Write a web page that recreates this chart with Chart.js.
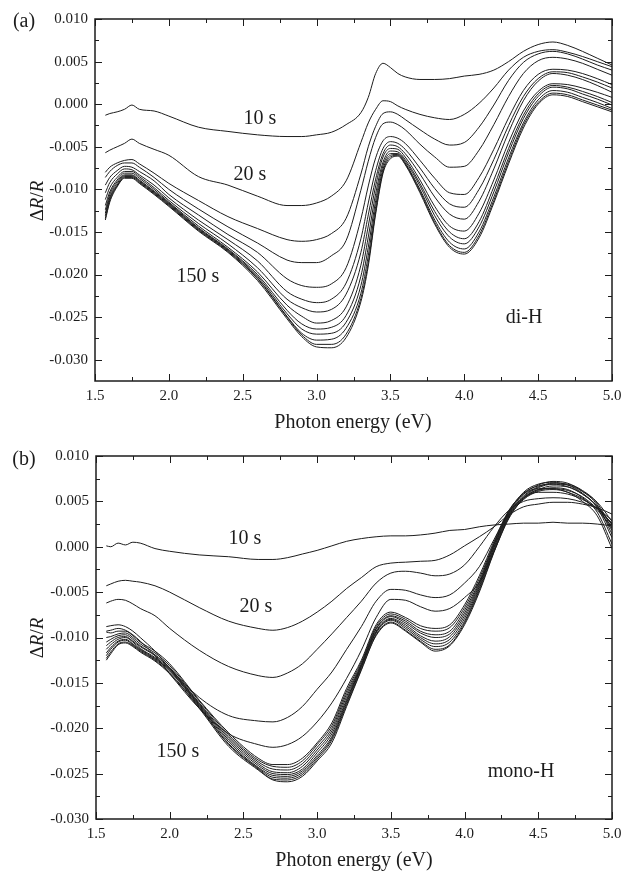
<!DOCTYPE html>
<html>
<head>
<meta charset="utf-8">
<script src="https://cdn.jsdelivr.net/npm/chart.js@4.4.1/dist/chart.umd.min.js"></script>
<style>
body { margin: 0; background: #fff; width: 621px; height: 875px; position: relative; overflow: hidden;
       font-family: "Liberation Serif", "Times New Roman", serif; color: #1c1c1c; }
canvas { position: absolute; left: 0; }
.t { position: absolute; white-space: nowrap; font-size: 20px; line-height: 1; transform: translate(-50%, -50%); }
.yt { font-size: 19px; transform: translate(-50%, -50%) rotate(-90deg); }
</style>
</head>
<body>
<canvas id="chartA" width="621" height="437" style="top:0"></canvas>
<canvas id="chartB" width="621" height="438" style="top:437px"></canvas>

<div class="t" style="left:24px;top:20px">(a)</div>
<div class="t yt" style="left:36px;top:201px">&Delta;<i>R</i>/<i>R</i></div>
<div class="t" style="left:353px;top:421px">Photon energy (eV)</div>
<div class="t" style="left:260px;top:117px">10 s</div>
<div class="t" style="left:250px;top:173px">20 s</div>
<div class="t" style="left:198px;top:275px">150 s</div>
<div class="t" style="left:524px;top:316px">di-H</div>

<div class="t" style="left:24px;top:458px">(b)</div>
<div class="t yt" style="left:36px;top:638px">&Delta;<i>R</i>/<i>R</i></div>
<div class="t" style="left:354px;top:859px">Photon energy (eV)</div>
<div class="t" style="left:245px;top:537px">10 s</div>
<div class="t" style="left:256px;top:605px">20 s</div>
<div class="t" style="left:178px;top:750px">150 s</div>
<div class="t" style="left:521px;top:770px">mono-H</div>

<script>
// tick values
const xTickValues = [1.5, 2.0, 2.5, 3.0, 3.5, 4.0, 4.5, 5.0];
const xMinorTicks = [1.75, 2.25, 2.75, 3.25, 3.75, 4.25, 4.75];
const yTickValues = [0.010, 0.005, 0.000, -0.005, -0.010, -0.015, -0.020, -0.025, -0.030];
const yMinorTicks = [0.0075, 0.0025, -0.0025, -0.0075, -0.0125, -0.0175, -0.0225, -0.0275];

// (a) di-H, exposure 10 s ... 150 s
const energyA = [1.57,1.6,1.65,1.7,1.75,1.8,1.9,2.0,2.2,2.4,2.6,2.8,2.9,3.0,3.1,3.2,3.3,3.35,3.4,3.45,3.5,3.55,3.6,3.7,3.8,3.9,4.0,4.1,4.2,4.3,4.4,4.5,4.6,4.7,4.8,4.9,5.0];
const diH_10s = [-0.0013,-0.0011,-0.0009,-0.0006,-0.0001,-0.0006,-0.0008,-0.0014,-0.0027,-0.0032,-0.0036,-0.0038,-0.0038,-0.0036,-0.0033,-0.0024,-0.0010,0.0008,0.0036,0.0048,0.0043,0.0036,0.0032,0.0029,0.0029,0.0030,0.0033,0.0035,0.0040,0.0050,0.0062,0.0070,0.0073,0.0069,0.0062,0.0054,0.0046];
const diH_20s = [-0.0057,-0.0054,-0.0050,-0.0046,-0.0041,-0.0046,-0.0053,-0.0060,-0.0085,-0.0095,-0.0108,-0.0119,-0.0119,-0.0116,-0.0108,-0.0090,-0.0045,-0.0022,-0.0006,0.0004,0.0003,-0.0002,-0.0006,-0.0012,-0.0016,-0.0018,-0.0012,0.0001,0.0019,0.0040,0.0055,0.0062,0.0064,0.0061,0.0056,0.0050,0.0044];
const diH_30s = [-0.0080,-0.0074,-0.0069,-0.0066,-0.0065,-0.0070,-0.0081,-0.0093,-0.0113,-0.0132,-0.0146,-0.0159,-0.0161,-0.0159,-0.0152,-0.0134,-0.0082,-0.0050,-0.0026,-0.0011,-0.0009,-0.0012,-0.0018,-0.0030,-0.0041,-0.0048,-0.0045,-0.0027,-0.0001,0.0028,0.0049,0.0059,0.0062,0.0059,0.0053,0.0046,0.0040];
const diH_40s = [-0.0086,-0.0079,-0.0072,-0.0069,-0.0069,-0.0074,-0.0086,-0.0100,-0.0123,-0.0144,-0.0163,-0.0183,-0.0186,-0.0186,-0.0178,-0.0160,-0.0101,-0.0067,-0.0039,-0.0023,-0.0021,-0.0024,-0.0030,-0.0047,-0.0062,-0.0074,-0.0073,-0.0054,-0.0024,0.0009,0.0036,0.0051,0.0055,0.0053,0.0048,0.0041,0.0034];
const diH_50s = [-0.0095,-0.0086,-0.0078,-0.0073,-0.0074,-0.0079,-0.0090,-0.0106,-0.0130,-0.0153,-0.0174,-0.0205,-0.0213,-0.0215,-0.0211,-0.0192,-0.0135,-0.0096,-0.0063,-0.0043,-0.0038,-0.0040,-0.0046,-0.0066,-0.0087,-0.0104,-0.0106,-0.0086,-0.0053,-0.0016,0.0016,0.0035,0.0041,0.0040,0.0036,0.0030,0.0023];
const diH_60s = [-0.0104,-0.0092,-0.0082,-0.0076,-0.0077,-0.0083,-0.0095,-0.0110,-0.0136,-0.0159,-0.0184,-0.0220,-0.0229,-0.0233,-0.0229,-0.0210,-0.0158,-0.0116,-0.0078,-0.0052,-0.0044,-0.0046,-0.0053,-0.0075,-0.0099,-0.0117,-0.0121,-0.0100,-0.0065,-0.0025,0.0009,0.0030,0.0038,0.0037,0.0032,0.0026,0.0019];
const diH_70s = [-0.0112,-0.0098,-0.0086,-0.0079,-0.0079,-0.0085,-0.0098,-0.0113,-0.0140,-0.0164,-0.0192,-0.0229,-0.0239,-0.0244,-0.0241,-0.0223,-0.0174,-0.0130,-0.0088,-0.0058,-0.0048,-0.0050,-0.0058,-0.0082,-0.0109,-0.0129,-0.0135,-0.0114,-0.0076,-0.0033,0.0004,0.0027,0.0036,0.0034,0.0029,0.0022,0.0014];
const diH_80s = [-0.0119,-0.0103,-0.0089,-0.0081,-0.0081,-0.0087,-0.0100,-0.0115,-0.0143,-0.0168,-0.0197,-0.0236,-0.0249,-0.0257,-0.0254,-0.0238,-0.0189,-0.0143,-0.0096,-0.0062,-0.0052,-0.0053,-0.0062,-0.0089,-0.0120,-0.0143,-0.0149,-0.0128,-0.0089,-0.0045,-0.0008,0.0015,0.0024,0.0023,0.0019,0.0014,0.0008];
const diH_90s = [-0.0124,-0.0106,-0.0091,-0.0083,-0.0083,-0.0089,-0.0102,-0.0116,-0.0145,-0.0170,-0.0200,-0.0242,-0.0258,-0.0264,-0.0262,-0.0248,-0.0202,-0.0156,-0.0105,-0.0068,-0.0055,-0.0056,-0.0065,-0.0093,-0.0126,-0.0150,-0.0158,-0.0138,-0.0097,-0.0052,-0.0013,0.0012,0.0022,0.0020,0.0015,0.0009,0.0002];
const diH_100s = [-0.0128,-0.0109,-0.0093,-0.0084,-0.0084,-0.0090,-0.0103,-0.0117,-0.0146,-0.0171,-0.0202,-0.0246,-0.0264,-0.0270,-0.0269,-0.0256,-0.0213,-0.0168,-0.0113,-0.0072,-0.0058,-0.0058,-0.0067,-0.0096,-0.0131,-0.0156,-0.0164,-0.0144,-0.0103,-0.0057,-0.0017,0.0009,0.0020,0.0018,0.0012,0.0006,-0.0001];
const diH_110s = [-0.0131,-0.0111,-0.0095,-0.0085,-0.0085,-0.0091,-0.0104,-0.0118,-0.0147,-0.0172,-0.0204,-0.0249,-0.0269,-0.0277,-0.0276,-0.0263,-0.0222,-0.0178,-0.0120,-0.0076,-0.0060,-0.0059,-0.0069,-0.0100,-0.0136,-0.0162,-0.0170,-0.0150,-0.0109,-0.0063,-0.0022,0.0005,0.0016,0.0014,0.0008,0.0002,-0.0005];
const diH_130s = [-0.0134,-0.0113,-0.0096,-0.0086,-0.0086,-0.0092,-0.0105,-0.0119,-0.0148,-0.0173,-0.0205,-0.0250,-0.0271,-0.0282,-0.0282,-0.0270,-0.0228,-0.0186,-0.0126,-0.0079,-0.0062,-0.0060,-0.0070,-0.0102,-0.0139,-0.0166,-0.0174,-0.0154,-0.0113,-0.0067,-0.0025,0.0002,0.0013,0.0011,0.0005,-0.0001,-0.0007];
const diH_150s = [-0.0136,-0.0115,-0.0097,-0.0087,-0.0087,-0.0093,-0.0106,-0.0120,-0.0149,-0.0174,-0.0207,-0.0252,-0.0273,-0.0285,-0.0286,-0.0274,-0.0232,-0.0190,-0.0129,-0.0081,-0.0064,-0.0061,-0.0071,-0.0104,-0.0141,-0.0168,-0.0176,-0.0157,-0.0116,-0.0070,-0.0028,0.0000,0.0011,0.0009,0.0003,-0.0003,-0.0009];

// (b) mono-H
const energyB = [1.57,1.6,1.65,1.7,1.75,1.8,1.9,2.0,2.2,2.4,2.6,2.7,2.8,2.9,3.0,3.1,3.2,3.3,3.4,3.5,3.6,3.7,3.8,3.9,4.0,4.1,4.2,4.3,4.4,4.5,4.6,4.7,4.8,4.9,5.0];
const monoH_10s = [0.0001,0.0000,0.0004,0.0002,0.0005,0.0004,-0.0002,-0.0005,-0.0009,-0.0011,-0.0014,-0.0014,-0.0012,-0.0008,-0.0004,0.0001,0.0006,0.0009,0.0011,0.0012,0.0012,0.0013,0.0015,0.0018,0.0019,0.0022,0.0024,0.0025,0.0026,0.0026,0.0027,0.0026,0.0026,0.0025,0.0023];
const monoH_20s = [-0.0043,-0.0041,-0.0038,-0.0037,-0.0038,-0.0039,-0.0043,-0.0050,-0.0067,-0.0082,-0.0090,-0.0092,-0.0089,-0.0082,-0.0072,-0.0060,-0.0046,-0.0034,-0.0022,-0.0018,-0.0017,-0.0016,-0.0015,-0.0009,0.0001,0.0011,0.0022,0.0035,0.0044,0.0047,0.0049,0.0049,0.0047,0.0043,0.0036];
const monoH_30s = [-0.0062,-0.0060,-0.0058,-0.0059,-0.0063,-0.0068,-0.0076,-0.0090,-0.0114,-0.0132,-0.0142,-0.0144,-0.0139,-0.0129,-0.0113,-0.0096,-0.0078,-0.0060,-0.0040,-0.0029,-0.0027,-0.0029,-0.0032,-0.0030,-0.0020,0.0000,0.0022,0.0040,0.0050,0.0053,0.0054,0.0053,0.0049,0.0042,0.0029];
const monoH_40s = [-0.0088,-0.0087,-0.0086,-0.0088,-0.0093,-0.0100,-0.0115,-0.0134,-0.0166,-0.0186,-0.0192,-0.0193,-0.0188,-0.0176,-0.0157,-0.0138,-0.0113,-0.0088,-0.0060,-0.0047,-0.0048,-0.0053,-0.0056,-0.0053,-0.0040,-0.0022,0.0008,0.0038,0.0054,0.0060,0.0060,0.0058,0.0052,0.0042,0.0025];
const monoH_50s = [-0.0093,-0.0092,-0.0090,-0.0092,-0.0097,-0.0104,-0.0120,-0.0140,-0.0178,-0.0206,-0.0218,-0.0221,-0.0218,-0.0209,-0.0193,-0.0172,-0.0145,-0.0114,-0.0078,-0.0058,-0.0059,-0.0066,-0.0071,-0.0068,-0.0056,-0.0039,-0.0005,0.0031,0.0053,0.0063,0.0064,0.0060,0.0053,0.0040,0.0022];
const monoH_60s = [-0.0094,-0.0095,-0.0093,-0.0093,-0.0098,-0.0105,-0.0115,-0.0129,-0.0169,-0.0205,-0.0233,-0.0240,-0.0240,-0.0233,-0.0216,-0.0194,-0.0156,-0.0125,-0.0086,-0.0072,-0.0078,-0.0087,-0.0090,-0.0086,-0.0064,-0.0032,0.0006,0.0040,0.0058,0.0064,0.0064,0.0062,0.0055,0.0042,0.0026];
const monoH_70s = [-0.0100,-0.0099,-0.0096,-0.0095,-0.0100,-0.0107,-0.0117,-0.0131,-0.0170,-0.0207,-0.0235,-0.0242,-0.0243,-0.0236,-0.0218,-0.0197,-0.0159,-0.0127,-0.0088,-0.0074,-0.0080,-0.0090,-0.0093,-0.0089,-0.0067,-0.0035,0.0004,0.0039,0.0059,0.0067,0.0069,0.0066,0.0058,0.0045,0.0024];
const monoH_80s = [-0.0105,-0.0102,-0.0098,-0.0097,-0.0102,-0.0109,-0.0119,-0.0133,-0.0172,-0.0209,-0.0237,-0.0245,-0.0246,-0.0239,-0.0221,-0.0200,-0.0162,-0.0129,-0.0090,-0.0076,-0.0082,-0.0093,-0.0097,-0.0093,-0.0070,-0.0038,0.0003,0.0038,0.0060,0.0069,0.0071,0.0068,0.0059,0.0044,0.0018];
const monoH_90s = [-0.0109,-0.0105,-0.0100,-0.0099,-0.0104,-0.0110,-0.0120,-0.0134,-0.0173,-0.0211,-0.0239,-0.0248,-0.0249,-0.0242,-0.0224,-0.0203,-0.0165,-0.0130,-0.0091,-0.0077,-0.0084,-0.0095,-0.0100,-0.0096,-0.0073,-0.0040,0.0002,0.0037,0.0058,0.0068,0.0072,0.0070,0.0061,0.0046,0.0014];
const monoH_100s = [-0.0113,-0.0108,-0.0102,-0.0100,-0.0105,-0.0112,-0.0122,-0.0135,-0.0174,-0.0213,-0.0241,-0.0250,-0.0251,-0.0245,-0.0227,-0.0206,-0.0168,-0.0131,-0.0093,-0.0079,-0.0086,-0.0098,-0.0104,-0.0099,-0.0076,-0.0042,0.0000,0.0036,0.0056,0.0066,0.0070,0.0069,0.0062,0.0048,0.0020];
const monoH_110s = [-0.0117,-0.0111,-0.0104,-0.0102,-0.0107,-0.0113,-0.0123,-0.0136,-0.0175,-0.0215,-0.0243,-0.0252,-0.0253,-0.0247,-0.0230,-0.0209,-0.0170,-0.0132,-0.0094,-0.0080,-0.0088,-0.0100,-0.0107,-0.0102,-0.0079,-0.0044,-0.0001,0.0035,0.0055,0.0065,0.0069,0.0068,0.0061,0.0049,0.0028];
const monoH_120s = [-0.0120,-0.0113,-0.0105,-0.0103,-0.0108,-0.0114,-0.0124,-0.0137,-0.0176,-0.0217,-0.0244,-0.0254,-0.0255,-0.0249,-0.0232,-0.0211,-0.0172,-0.0133,-0.0095,-0.0081,-0.0090,-0.0102,-0.0110,-0.0105,-0.0082,-0.0046,-0.0003,0.0034,0.0054,0.0063,0.0067,0.0066,0.0058,0.0043,0.0010];
const monoH_130s = [-0.0123,-0.0116,-0.0107,-0.0105,-0.0109,-0.0115,-0.0125,-0.0139,-0.0177,-0.0218,-0.0245,-0.0256,-0.0257,-0.0251,-0.0234,-0.0213,-0.0174,-0.0135,-0.0097,-0.0083,-0.0092,-0.0104,-0.0113,-0.0108,-0.0084,-0.0048,-0.0005,0.0033,0.0053,0.0062,0.0065,0.0063,0.0054,0.0038,0.0003];
const monoH_150s = [-0.0125,-0.0118,-0.0108,-0.0106,-0.0110,-0.0116,-0.0126,-0.0140,-0.0178,-0.0220,-0.0246,-0.0257,-0.0259,-0.0253,-0.0236,-0.0216,-0.0176,-0.0136,-0.0098,-0.0084,-0.0093,-0.0105,-0.0115,-0.0109,-0.0086,-0.0050,-0.0006,0.0032,0.0052,0.0061,0.0063,0.0060,0.0050,0.0034,-0.0002];

const curvesA = [diH_10s, diH_20s, diH_30s, diH_40s, diH_50s, diH_60s, diH_70s, diH_80s, diH_90s, diH_100s, diH_110s, diH_130s, diH_150s];
const curvesB = [monoH_10s, monoH_20s, monoH_30s, monoH_40s, monoH_50s, monoH_60s, monoH_70s, monoH_80s, monoH_90s, monoH_100s, monoH_110s, monoH_120s, monoH_130s, monoH_150s];

const ink = '#1c1c1c';
const tickFont = { family: 'Liberation Serif', size: 15 };

// frame plus inward ticks on all four sides
const inwardTicks = {
    id: 'inwardTicks',
    afterDatasetsDraw(chart) {
        const { ctx, chartArea: ca, scales } = chart;
        ctx.save();
        ctx.strokeStyle = ink;
        ctx.lineWidth = 1;
        ctx.beginPath();
        const xt = (vals, len) => vals.forEach(v => {
            const px = Math.round(scales.x.getPixelForValue(v)) + 0.5;
            ctx.moveTo(px, ca.bottom); ctx.lineTo(px, ca.bottom - len);
            ctx.moveTo(px, ca.top); ctx.lineTo(px, ca.top + len);
        });
        const yt = (vals, len) => vals.forEach(v => {
            const py = Math.round(scales.y.getPixelForValue(v)) + 0.5;
            ctx.moveTo(ca.left, py); ctx.lineTo(ca.left + len, py);
            ctx.moveTo(ca.right, py); ctx.lineTo(ca.right - len, py);
        });
        xt(xTickValues, 7); xt(xMinorTicks, 4);
        yt(yTickValues, 7); yt(yMinorTicks, 4);
        ctx.stroke();
        ctx.lineWidth = 1.5;
        ctx.strokeRect(ca.left, ca.top, ca.right - ca.left, ca.bottom - ca.top);
        ctx.restore();
    }
};

function makePanel(id, energies, curves, yMin, leftWidth) {
    const datasets = curves.map(c => ({
        data: energies.map((e, i) => ({ x: e, y: c[i] })),
        borderColor: ink,
        borderWidth: 1,
        pointRadius: 0,
        fill: false,
        cubicInterpolationMode: 'monotone'
    }));
    return new Chart(document.getElementById(id), {
        type: 'line',
        data: { datasets: datasets },
        plugins: [inwardTicks],
        options: {
            responsive: false,
            animation: false,
            layout: { padding: { left: 0, right: 9, top: 19, bottom: 0 } },
            plugins: { legend: { display: false }, tooltip: { enabled: false } },
            scales: {
                x: {
                    type: 'linear', min: 1.5, max: 5.0,
                    grid: { display: false, drawTicks: false },
                    border: { display: false },
                    afterBuildTicks: s => { s.ticks = xTickValues.map(v => ({ value: v })); },
                    afterFit: s => { s.height = 56; s.paddingLeft = 0; s.paddingRight = 0; },
                    ticks: { autoSkip: false, maxRotation: 0, padding: 6, color: ink, font: tickFont,
                             callback: v => v.toFixed(1) }
                },
                y: {
                    min: yMin, max: 0.010,
                    grid: { display: false, drawTicks: false },
                    border: { display: false },
                    afterBuildTicks: s => { s.ticks = yTickValues.map(v => ({ value: v })); },
                    afterFit: s => { s.width = leftWidth; s.paddingTop = 0; s.paddingBottom = 0; },
                    ticks: { autoSkip: false, padding: 7, color: ink, font: tickFont,
                             callback: v => v.toFixed(3) }
                }
            }
        }
    });
}

makePanel('chartA', energyA, curvesA, -0.0325, 95);
makePanel('chartB', energyB, curvesB, -0.030, 96);
</script>
</body>
</html>
